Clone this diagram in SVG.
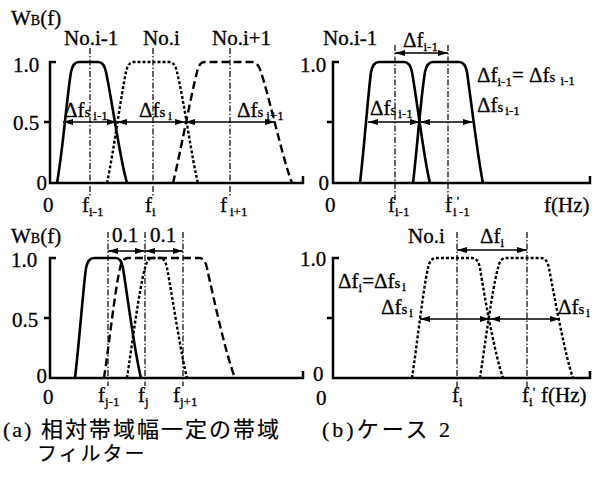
<svg xmlns="http://www.w3.org/2000/svg" width="607" height="479" viewBox="0 0 607 479">
<style>
text{font-family:"Liberation Serif","Times New Roman","DejaVu Serif",serif;font-size:21px;fill:#000;stroke:#000;stroke-width:0.3}
.s{font-size:13px}
.m{font-size:15px}
.cap{font-family:"Liberation Serif","Noto Sans CJK JP",serif;font-size:22px;letter-spacing:2px;stroke-width:0.2}
.ax{fill:none;stroke:#000;stroke-width:2.5}
.sol{fill:none;stroke:#000;stroke-width:2.6}
.dot{fill:none;stroke:#000;stroke-width:2.4;stroke-dasharray:3 2}
.dsh{fill:none;stroke:#000;stroke-width:2.4;stroke-dasharray:8 4}
.vl{fill:none;stroke:#000;stroke-width:1.2;stroke-dasharray:6 2 1.5 2}
.ar{fill:none;stroke:#000;stroke-width:1.5;marker-start:url(#ah);marker-end:url(#ah)}
</style>
<defs>
<marker id="ah" viewBox="0 0 10 6" refX="10" refY="3" markerWidth="10" markerHeight="6" markerUnits="userSpaceOnUse" orient="auto-start-reverse"><path d="M0,0 L10,3 L0,6 z" fill="#000"/></marker>
</defs>

<g id="panel-a-top">
<path class="ax" d="M56,62 H50 V183 H303 V176 M44,122 H50"/>
<text x="11" y="25">W<tspan font-size="14">B</tspan>(f)</text>
<text x="13" y="72">1.0</text>
<text x="13" y="130">0.5</text>
<text x="47" y="190" text-anchor="end">0</text>
<text x="43" y="212">0</text>
<text x="64" y="45">No.i-1</text>
<text x="143" y="45">No.i</text>
<text x="212" y="45">No.i+1</text>
<text x="82" y="212">f<tspan class="s" dy="4">i-1</tspan></text>
<text x="145" y="212">f<tspan class="s" dy="4">i</tspan></text>
<text x="220" y="212">f<tspan class="s" dy="4" dx="3">i+1</tspan></text>
<path class="sol" d="M57,183 C63,150 67,95 71,72 Q73,62 79,62 L98,62 Q104,62 106,72 C112,100 120,160 127,183"/>
<path class="dot" d="M107,183 C114,150 121,95 126,72 Q128,62 134,62 L169,62 Q175,62 177,72 C184,100 192,160 198,183"/>
<path class="dsh" d="M173,183 C181,150 191,95 197,72 Q199,62 205,62 L252,62 Q258,62 261,72 C270,100 283,160 292,183"/>
<text x="64" y="117">Δf<tspan class="m">s</tspan><tspan class="s" dx="3" dy="3">i-1</tspan></text>
<text x="139" y="117">Δf<tspan class="m">s</tspan><tspan class="s" dx="3" dy="3">i</tspan></text>
<text x="237" y="117">Δf<tspan class="m">s</tspan><tspan class="s" dx="3" dy="3">i+1</tspan></text>
</g>

<g id="panel-b-top">
<path class="ax" d="M339,62 H333 V183 H590 V176 M327,122 H333"/>
<text x="300" y="72">1.0</text>
<text x="329" y="190" text-anchor="end">0</text>
<text x="325" y="212">0</text>
<text x="323" y="45">No.i-1</text>
<text x="403" y="47">Δf<tspan class="s" dy="4">i-1</tspan></text>
<text x="388" y="212">f<tspan class="s" dy="4">i-1</tspan></text>
<text x="445" y="212">f<tspan class="s" dx="1" dy="4">i</tspan><tspan class="s" dy="-11">'</tspan><tspan class="s" dy="11">-1</tspan></text>
<text x="544" y="212">f(Hz)</text>
<path class="sol" d="M360,183 C364,150 368,95 371,72 Q373,62 379,62 L404,62 Q410,62 412,72 C417,100 424,160 430,183"/>
<path class="sol" d="M413,183 C417,150 421,95 425,72 Q427,62 433,62 L459,62 Q465,62 467,72 C471,100 478,160 483,183"/>
<text x="370" y="115">Δf<tspan class="m">s</tspan><tspan class="s" dx="2" dy="3">i-1</tspan></text>
<text x="477" y="82">Δf<tspan class="s" dy="4">i-1</tspan><tspan dy="-4">= Δf</tspan><tspan class="m">s</tspan><tspan class="s" dx="5" dy="3">i-1</tspan></text>
<text x="477" y="112">Δf<tspan class="m">s</tspan><tspan class="s" dx="2" dy="3">i-1</tspan></text>
</g>

<g id="panel-a-bottom">
<path class="ax" d="M56,258 H50 V378 H303 V371 M44,318 H50"/>
<text x="11" y="243">W<tspan font-size="14">B</tspan>(f)</text>
<text x="11" y="267">1.0</text>
<text x="12" y="327">0.5</text>
<text x="47" y="383" text-anchor="end">0</text>
<text x="43" y="404">0</text>
<text x="112" y="242">0.1</text>
<text x="150" y="242">0.1</text>
<text x="98" y="402">f<tspan class="s" dy="4">j-1</tspan></text>
<text x="138" y="402">f<tspan class="s" dy="4">j</tspan></text>
<text x="173" y="402">f<tspan class="s" dy="4">j+1</tspan></text>
<path class="sol" d="M75,378 C79,345 83,290 86,268 Q88,258 94,258 L116,258 Q121,258 123,268 C128,300 135,355 141,378"/>
<path class="dsh" d="M104,378 C109,345 115,290 120,268 Q122,258 128,258 L199,258 Q205,258 207,268 C214,300 226,355 235,378"/>
<path class="dot" d="M127,378 C132,345 139,290 145,268 Q147,258 153,258 L160,258 Q165,258 167,268 C173,300 181,355 187,378"/>
</g>

<g id="panel-b-bottom">
<path class="ax" d="M339,258 H333 V378 H590 V371 M327,318 H333"/>
<text x="300" y="266">1.0</text>
<text x="313" y="381">0</text>
<text x="316" y="405">0</text>
<text x="408" y="243">No.i</text>
<text x="480" y="243">Δf<tspan class="s" dy="4">i</tspan></text>
<text x="338" y="288">Δf<tspan class="s" dy="4">i</tspan><tspan dy="-4">=Δf</tspan><tspan class="m">s</tspan><tspan class="s" dx="2" dy="3">i</tspan></text>
<text x="381" y="314">Δf<tspan class="m">s</tspan><tspan class="s" dx="2" dy="3">i</tspan></text>
<text x="558" y="314">Δf<tspan class="m">s</tspan><tspan class="s" dx="2" dy="3">i</tspan></text>
<text x="452" y="402">f<tspan class="s" dy="4">i</tspan></text>
<text x="522" y="402">f<tspan class="s" dy="4">i</tspan><tspan class="s" dy="-10">'</tspan></text>
<text x="541" y="402">f(Hz)</text>
<path class="dot" d="M412,378 C417,345 423,290 428,268 Q430,258 436,258 L472,258 Q478,258 480,268 C485,300 495,355 503,378"/>
<path class="dot" d="M480,378 C485,345 492,290 498,268 Q500,258 506,258 L541,258 Q547,258 549,268 C555,300 565,355 573,378"/>
</g>

<g id="connectors">
<path class="vl" d="M90,48 V197 M153,48 V197 M230,48 V197"/>
<path class="vl" d="M395,45 V200 M448,45 V200"/>
<path class="vl" d="M108,232 V386 M145,232 V386 M183,232 V386"/>
<path class="vl" d="M457,232 V390 M527,232 V390"/>
<path class="ar" d="M63,122 H117"/>
<path class="ar" d="M117,122 H185"/>
<path class="ar" d="M185,122 H275"/>
<path class="ar" d="M395,53 H448"/>
<path class="ar" d="M368,122 H420"/>
<path class="ar" d="M420,122 H473"/>
<path class="ar" d="M108,251 H145"/>
<path class="ar" d="M145,251 H183"/>
<path class="ar" d="M457,250 H527"/>
<path class="ar" d="M420,319 H490"/>
<path class="ar" d="M490,319 H560"/>
</g>

<g id="captions">
<text class="cap" x="3" y="437">(a) 相対帯域幅一定の帯域</text>
<text class="cap" x="37" y="461" style="font-size:20px">フィルター</text>
<text class="cap" x="322" y="437" style="letter-spacing:3px">(b)ケース 2</text>
</g>
</svg>
